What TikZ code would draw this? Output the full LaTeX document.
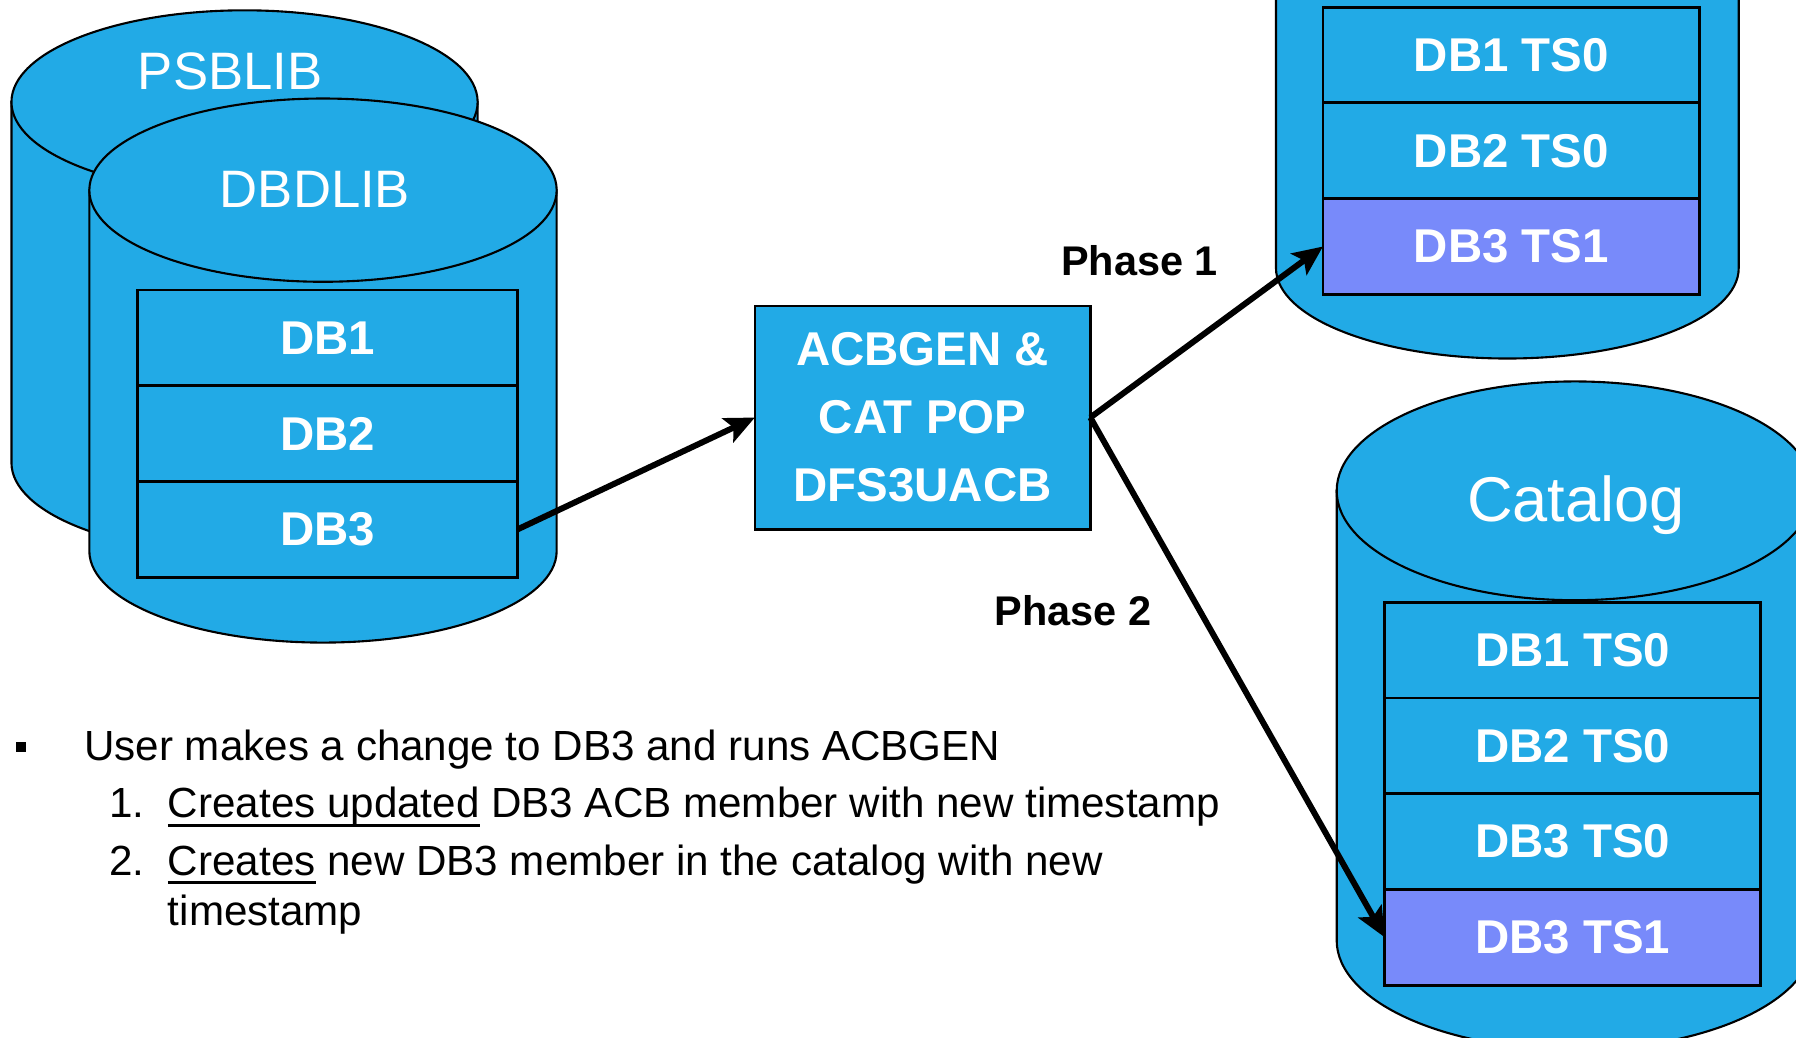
\documentclass[tikz,border=0pt]{standalone}
\usepackage{fontspec}
\setmainfont{Liberation Sans}
\usepackage{tikz}
\usetikzlibrary{shapes, arrows, arrows.meta, calc, positioning}

\definecolor{dbblue}{RGB}{34,170,230}
\definecolor{tsnew}{RGB}{120,138,250}
\newcommand{\ulbar}[1]{\setbox0\hbox{#1}\rlap{\rule[-2.6pt]{\wd0}{0.9pt}}\box0\relax}

\begin{document}
\begin{tikzpicture}[x=0.011454cm, y=-0.011454cm,
    cyl/.style={draw=black, fill=dbblue, line width=0.6pt},
    row/.style={draw=black, fill=dbblue, line width=0.8pt, minimum width=3.77cm,
        minimum height=0.958cm, inner sep=0pt, outer sep=0pt, text=white,
        font=\fontsize{13.5}{16}\selectfont\bfseries},
    newrow/.style={row, fill=tsnew},
    title/.style={anchor=base, text=white, inner sep=0pt},
    phase/.style={font=\fontsize{11.8}{14}\selectfont\bfseries},
    flow/.style={line width=1.7pt, -{Stealth[length=8.5pt,width=7.5pt,inset=1.8pt]}},
    item/.style={anchor=base west, inner sep=0pt, font=\fontsize{12}{14}\selectfont}]

    \useasboundingbox (0,0) rectangle (1568,906);
    \clip (0,0) rectangle (1568,906);

    % libraries on the left
    \filldraw[cyl] (10,89) -- (10,404) arc[start angle=180, end angle=0, x radius=203.5, y radius=80] -- (417,89) -- cycle;
    \filldraw[cyl] (213.5,89) ellipse[x radius=203.5, y radius=80];
    \node[title, font=\fontsize{15}{18}\selectfont] (psb) at (201,78) {PSBLIB};

    \filldraw[cyl] (78,166) -- (78,481) arc[start angle=180, end angle=0, x radius=204, y radius=80] -- (486,166) -- cycle;
    \filldraw[cyl] (282,166) ellipse[x radius=204, y radius=80];
    \node[title, font=\fontsize{15}{18}\selectfont] (dbd) at (275,181.5) {DBDLIB};

    \node[row, minimum width=3.8cm] (db_1) at (286,295) {DB1};
    \node[row, minimum width=3.8cm, below=0pt of db_1] (db_2) {DB2};
    \node[row, minimum width=3.8cm, below=0pt of db_2] (db_3) {DB3};

    % ACB library, top right
    \filldraw[cyl] (1114,-60) -- (1114,234) arc[start angle=180, end angle=0, x radius=202, y radius=79] -- (1518,-60) -- cycle;
    \node[row] (acb_1) at (1319.5,48) {DB1 TS0};
    \node[row, below=0pt of acb_1] (acb_2) {DB2 TS0};
    \node[newrow, below=0pt of acb_2] (acb_3) {DB3 TS1};

    % catalog, bottom right
    \filldraw[cyl] (1167,428.5) -- (1167,821) arc[start angle=180, end angle=0, x radius=208, y radius=95.5] -- (1583,428.5) -- cycle;
    \filldraw[cyl] (1375,428.5) ellipse[x radius=208, y radius=95.5];
    \node[title, font=\fontsize{18}{21}\selectfont] (cat) at (1376,455) {Catalog};

    \node[row, minimum width=3.76cm] (cat_1) at (1373,567.5) {DB1 TS0};
    \node[row, minimum width=3.76cm, below=0pt of cat_1] (cat_2) {DB2 TS0};
    \node[row, minimum width=3.76cm, below=0pt of cat_2] (cat_3) {DB3 TS0};
    \node[newrow, minimum width=3.76cm, below=0pt of cat_3] (cat_4) {DB3 TS1};

    % the utility
    \node[row, minimum width=3.356cm, minimum height=2.233cm, align=center,
        font=\fontsize{13.5}{19.4}\selectfont\bfseries] (gen) at (805.5,364.5)
        {ACBGEN \&\\CAT POP\\DFS3UACB};

    \draw[flow] (db_3.east) -- (gen.west);
    \draw[flow] (gen.east) -- (acb_3.west);
    \draw[flow] (gen.east) -- (cat_4.west);

    \node[phase] (ph_1) at (995,228) {Phase 1};
    \node[phase] (ph_2) at (937,533) {Phase 2};

    % notes
    \node[fill=black, minimum size=0.1cm, inner sep=0pt] (dot) at (18.5,652) {};
    \node[item] (t_1) at (73,664) {User makes a change to DB3 and runs ACBGEN};
    \node[item] (n_1) at (95,714) {1.};
    \node[item] (t_2) at (146,714) {\ulbar{Creates updated} DB3 ACB member with new timestamp};
    \node[item] (n_2) at (95,764) {2.};
    \node[item] (t_3) at (146,764) {\ulbar{Creates} new DB3 member in the catalog with new};
    \node[item] (t_4) at (146,808) {timestamp};
\end{tikzpicture}
\end{document}
